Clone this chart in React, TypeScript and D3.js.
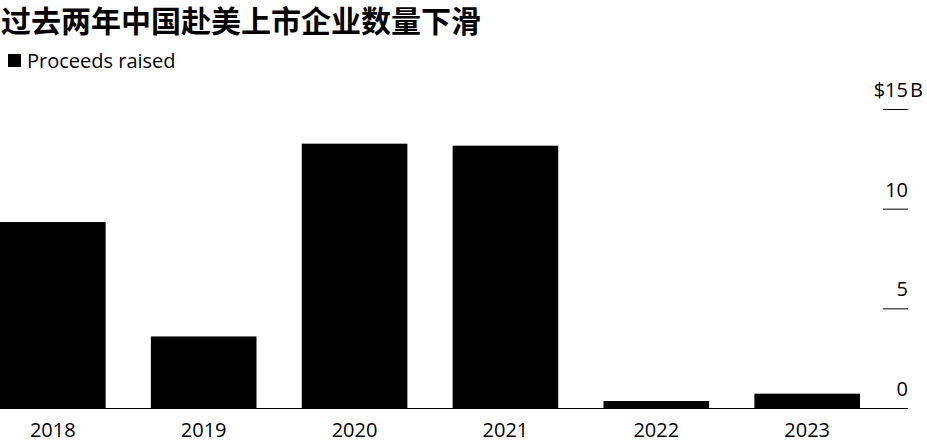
import React from "react";
import * as d3 from "d3";

const years = ["2018", "2019", "2020", "2021", "2022", "2023"];
const proceeds = [9.33, 3.59, 13.26, 13.16, 0.35, 0.72];
const yTicks = [0, 5, 10, 15];

const W = 927;
const H = 441;
const FONT = "'Open Sans', 'Noto Sans', sans-serif";

export default function App() {
  const x = d3.scaleBand<string>().domain(years).range([0, 860]).paddingInner(0.3).paddingOuter(0);
  const y = d3.scaleLinear().domain([0, 15]).range([408, 109]);
  return (
    <svg width={W} height={H} style={{ position: "absolute", left: 0, top: 0, background: "#fff" }}>
      <text x={1} y={32} fontFamily="'Noto Sans CJK SC', sans-serif" fontWeight={700} fontSize={30} fill="#000">
        过去两年中国赴美上市企业数量下滑
      </text>
      <rect x={8} y={54} width={13} height={13} fill="#000" />
      <text x={27} y={68} fontFamily={FONT} fontSize={20} fill="#000">Proceeds raised</text>
      {years.map((yr, i) => (
        <rect key={yr} x={x(yr)} y={y(proceeds[i])} width={x.bandwidth()} height={y(0) - y(proceeds[i])} fill="#000" />
      ))}
      <line x1={0} x2={908} y1={y(0) + 0.5} y2={y(0) + 0.5} stroke="#000" strokeWidth={1} />
      {yTicks.map((t) => (
        <g key={t}>
          {t !== 0 && <line x1={883} x2={908} y1={y(t) + 0.5} y2={y(t) + 0.5} stroke="#000" strokeWidth={1} />}
          <text x={908} y={y(t) - 12} textAnchor="end" fontFamily={FONT} fontSize={20} fill="#000">
            {t === 15 ? "$15" : String(t)}
          </text>
          {t === 15 && (
            <text x={910} y={y(t) - 12} fontFamily={FONT} fontSize={20} fill="#000">B</text>
          )}
        </g>
      ))}
      {years.map((yr) => (
        <text key={yr} x={(x(yr) as number) + x.bandwidth() / 2} y={437} textAnchor="middle" fontFamily={FONT} fontSize={20} fill="#000">
          {yr}
        </text>
      ))}
    </svg>
  );
}
